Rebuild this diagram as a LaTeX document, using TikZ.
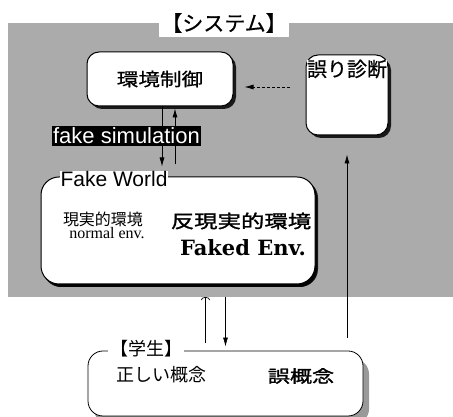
\documentclass[tikz,border=0pt]{standalone}
\usepackage{fontspec}
\usepackage{tikz}
\usetikzlibrary{arrows.meta,shadows}
\setmainfont{Liberation Serif}
\setsansfont{Liberation Sans}
\newfontfamily\jpfont{Noto Sans CJK JP}
\newfontfamily\jpmid[FakeBold=0.6]{Noto Sans CJK JP}
\newfontfamily\jpwide[FakeStretch=1.2,FakeBold=0.6]{Noto Sans CJK JP}
\newfontfamily\jpbold[FakeStretch=1.3,FakeBold=1.5]{Noto Sans CJK JP}
\newfontfamily\slabfont{DejaVu Serif}

\tikzset{
	sysbox/.style={draw=black, line width=1pt, fill=white, rounded corners=12pt,
		drop shadow={shadow xshift=3pt, shadow yshift=-3pt, fill=black, opacity=0.85}},
	tag/.style={fill=white, inner sep=1pt},
	arr/.style={-{Latex[length=9pt,width=5pt]}, line width=0.7pt},
	barb/.style={-{Arc Barb[length=3pt,width=9pt]}, line width=0.7pt},
}

\begin{document}
\begin{tikzpicture}[x=1pt,y=1pt]
	\useasboundingbox (0,0) rectangle (453,417);

	\node[fill=black!33, anchor=south west, inner sep=0pt, minimum width=445pt, minimum height=274pt] (system) at (8,120) {};
	\node[tag, minimum width=130pt, minimum height=28pt, font=\jpmid\fontsize{21}{21}\selectfont] (systitle) at (224,394) {【システム】};

	\node[sysbox, minimum width=146pt, minimum height=54pt, font=\jpwide\fontsize{18}{18}\selectfont] (ctrl) at (160,338) {環境制御};
	\node[sysbox, minimum width=82pt, minimum height=80pt] (diag) at (347,322) {};
	\node[tag, inner sep=0pt, font=\jpmid\fontsize{20}{20}\selectfont] (diagtitle) at (347,348) {誤り診断};

	\node[sysbox, rounded corners=18pt, minimum width=274pt, minimum height=107pt,
		drop shadow={shadow xshift=2pt, shadow yshift=-3pt, fill=black, opacity=0.85}] (world) at (178,186.5) {};
	\node[tag, font=\sffamily\fontsize{21}{21}\selectfont] (worldtitle) at (114,237.5) {Fake World};
	\node[font=\jpfont\fontsize{16}{16}\selectfont] (real) at (103,197.5) {現実的環境};
	\node[font=\rmfamily\fontsize{16}{16}\selectfont] (realen) at (107,184) {normal env.};
	\node[font=\jpbold\fontsize{18}{18}\selectfont] (fake) at (241,196) {反現実的環境};
	\node[font=\slabfont\bfseries\fontsize{21}{21}\selectfont] (fakeen) at (243,169.5) {Faked Env.};

	\node[draw=black, line width=0.8pt, fill=white, rounded corners=15pt, minimum width=275pt, minimum height=65pt,
		drop shadow={shadow xshift=6pt, shadow yshift=-8pt, fill=black, opacity=0.4}] (student) at (225.5,33.5) {};
	\node[tag, inner sep=2pt, font=\jpfont\fontsize{18}{18}\selectfont] (studtitle) at (146,68) {【学生】};
	\node[font=\jpfont\fontsize{18}{18}\selectfont] (right) at (161,42) {正しい概念};
	\node[font=\jpbold\fontsize{17}{17}\selectfont] (wrong) at (301,41) {誤概念};

	\path [arr, densely dashed, shorten <=16pt, shorten >=11pt] ([yshift=-8pt]diag.west |- ctrl.east) edge ([yshift=-8pt]ctrl.east);
	\path [arr, shorten >=10pt] ([xshift=2pt]ctrl.south) edge ([xshift=2pt]ctrl.south |- world.north);
	\path [arr, shorten <=12pt, shorten >=2pt] ([xshift=15pt]ctrl.south |- world.north) edge ([xshift=15pt]ctrl.south);

	\node[fill=black, text=white, inner sep=1.5pt, font=\sffamily\fontsize{22}{22}\selectfont] (sim) at (126.5,281) {fake simulation};

	\path [arr, shorten <=13pt, shorten >=19pt] (diag.south |- student.north) edge (diag.south);
	\path [barb, shorten <=8pt] ([xshift=-20pt]student.north) edge ([xshift=-20pt]student.north |- system.south);
	\path [arr, shorten >=4pt] (student.north |- system.south) edge (student.north);
\end{tikzpicture}
\end{document}
